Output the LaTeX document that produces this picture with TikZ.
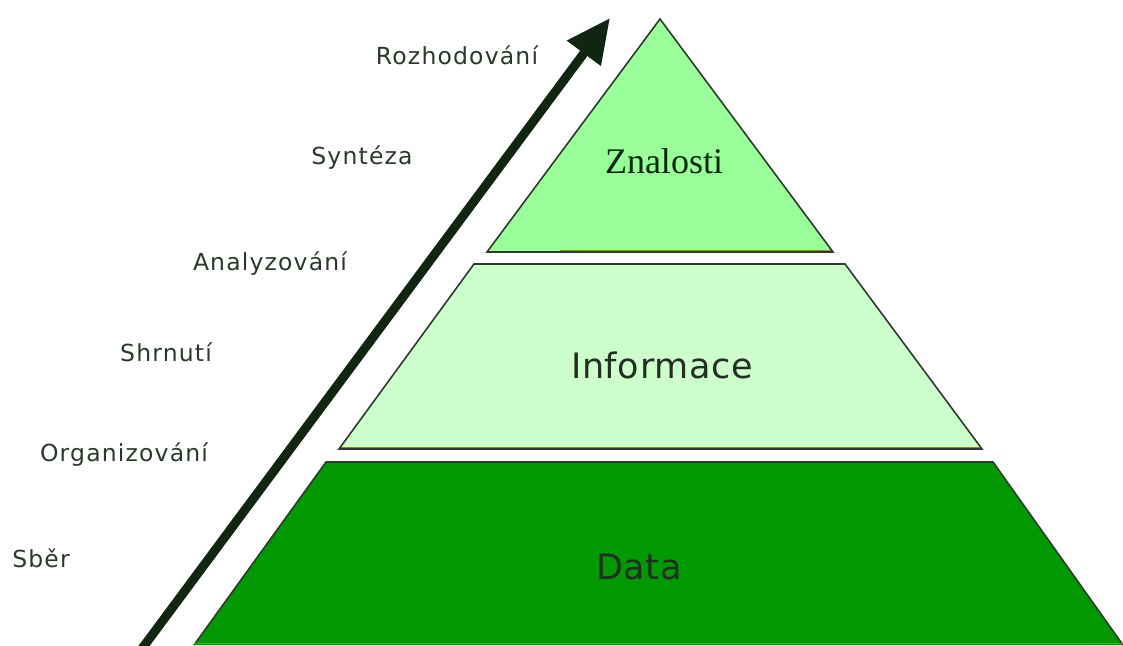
\documentclass[tikz,border=0pt]{standalone}
\usepackage{fontspec}
\usetikzlibrary{arrows.meta}
\newfontfamily\labfont[LetterSpace=5]{DejaVu Sans}
\newfontfamily\tierfont[LetterSpace=2]{DejaVu Sans}
\newfontfamily\serffont{Liberation Serif}
\definecolor{tiertop}{HTML}{99FF99}
\definecolor{tiermid}{HTML}{CCFFCC}
\definecolor{tierlow}{HTML}{009900}
\definecolor{edgedark}{HTML}{2E3A2E}
\definecolor{edgeolive}{HTML}{8F8A00}
\definecolor{arrowcol}{HTML}{112611}
\definecolor{labcol}{HTML}{2A3A2A}
\tikzset{
  tier/.style={draw=edgedark, line width=1.6pt, line join=miter},
  baseline edge/.style={draw=edgeolive, line width=1.6pt},
  steplabel/.style={font=\labfont\fontsize{23.5}{28}\selectfont, text=labcol, inner sep=0pt},
  tierlabel/.style={font=\tierfont\fontsize{35}{40}\selectfont, text=labcol!80!black, inner sep=0pt},
  toplabel/.style={font=\serffont\fontsize{36}{42}\selectfont, text=black!85!green, inner sep=0pt},
  progress/.style={draw=arrowcol, line width=9pt, -{Triangle[length=44pt,width=40pt]}}
}
\begin{document}
\begin{tikzpicture}[x=1pt,y=-1pt]
  \useasboundingbox (0,0) rectangle (1123,645);
  % tiers of the pyramid
  \fill[tierlow] (326,462) -- (993,462) -- (1123,645) -- (194,645) -- cycle;
  \draw[tier] (194,645) -- (326,462) -- (993,462) -- (1123,645);
  \draw[baseline edge] (194,643.5) -- (1123,643.5);
  \fill[tiermid] (474,264) -- (845,264) -- (982,449) -- (339,449) -- cycle;
  \draw[tier] (474,264) -- (845,264) -- (982,449) -- (339,449) -- cycle;
  \draw[baseline edge] (341,447.5) -- (980,447.5);
  \fill[tiertop] (660,19) -- (833,252) -- (487,252) -- cycle;
  \draw[tier] (660,19) -- (833,252) -- (487,252) -- cycle;
  \draw[baseline edge] (560,250.5) -- (831,250.5);
  % tier names
  \node[toplabel]  (znalosti)  at (664,161) {Znalosti};
  \node[tierlabel] (informace) at (662,365) {Informace};
  \node[tierlabel] (data)      at (639,567) {Data};
  % rising process arrow
  \coordinate (arrstart) at (141,650);
  \coordinate (arrtip) at (610,18);
  \draw[progress] (arrstart) -- (arrtip);
  % process steps
  \node[steplabel] (rozhodovani)  at (457,55)  {Rozhodování};
  \node[steplabel] (synteza)      at (362,158) {Syntéza};
  \node[steplabel] (analyzovani)  at (270,264) {Analyzování};
  \node[steplabel] (shrnuti)      at (166,352) {Shrnutí};
  \node[steplabel] (organizovani) at (124,455) {Organizování};
  \node[steplabel] (sber)         at (41,558)  {Sběr};
\end{tikzpicture}
\end{document}
